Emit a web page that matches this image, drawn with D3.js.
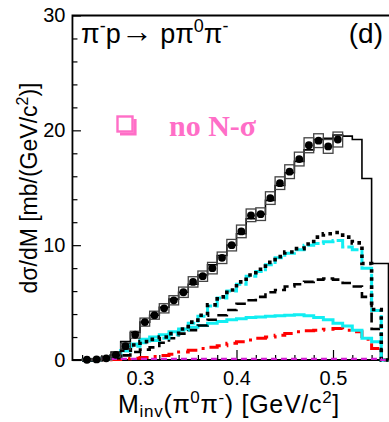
<!DOCTYPE html>
<html>
<head>
<meta charset="utf-8">
<script src="https://cdn.jsdelivr.net/npm/d3@7"></script>
<style>
  html, body { margin: 0; padding: 0; background: #fff; }
  svg { display: block; }
</style>
</head>
<body>
<svg id="chart" width="389" height="422" font-family="Liberation Sans, Arial, Helvetica, sans-serif"></svg>
<script>
// Invariant mass bins of the simulated histograms (GeV/c^2)
const binEdges = [0.24, 0.25, 0.26, 0.27, 0.28, 0.29, 0.30, 0.31, 0.32, 0.33, 0.34,
  0.35, 0.36, 0.37, 0.38, 0.39, 0.40, 0.41, 0.42, 0.43, 0.44, 0.45, 0.46, 0.47,
  0.48, 0.49, 0.50, 0.51, 0.52, 0.53, 0.54, 0.55, 0.5575];

// Measured points: bin centre, dsigma/dM and systematic half-height
const dataMass = [0.245, 0.255, 0.265, 0.275, 0.285, 0.295, 0.305, 0.315, 0.325,
  0.335, 0.345, 0.355, 0.365, 0.375, 0.385, 0.395, 0.405, 0.415, 0.425, 0.435,
  0.445, 0.455, 0.465, 0.475, 0.485, 0.495, 0.505];
const dataXsec = [0.02, 0.05, 0.15, 0.45, 1.2, 2.2, 3.3, 3.9, 4.5, 5.2, 5.9, 6.8,
  7.3, 8.0, 8.9, 10.0, 11.2, 12.6, 12.7, 14.1, 15.4, 16.4, 17.5, 18.7, 19.1, 18.6, 19.2];
const dataSyst = [0.05, 0.08, 0.1, 0.15, 0.25, 0.3, 0.35, 0.35, 0.4, 0.4, 0.45, 0.45,
  0.45, 0.5, 0.5, 0.5, 0.55, 0.55, 0.55, 0.55, 0.55, 0.6, 0.6, 0.65, 0.6, 0.6, 0.65];

// Model components, one value per bin
const totalModel = [0.05, 0.1, 0.25, 0.7, 1.6, 2.4, 3.3, 3.9, 4.6, 5.3, 5.9, 6.6, 7.4,
  8.3, 9.1, 10.0, 11.0, 12.3, 12.7, 13.9, 15.2, 16.3, 17.3, 18.3, 19.2, 19.3, 19.6,
  19.5, 19.2, 15.8, 8.4, 8.4];
const dottedModel = [0, 0.02, 0.1, 0.35, 0.85, 1.3, 1.6, 1.8, 2.0, 2.3, 2.7, 3.3, 3.9,
  4.8, 5.5, 6.1, 6.8, 7.4, 7.9, 8.5, 9.0, 9.4, 9.7, 10.1, 10.7, 11.0, 11.1, 10.7,
  10.2, 8.4, 4.4, 0];
const cyanUpper = [0, 0.02, 0.1, 0.3, 0.8, 1.2, 1.5, 1.7, 1.9, 2.2, 2.6, 3.2, 3.8, 4.7,
  5.4, 6.0, 6.6, 7.3, 7.7, 8.3, 8.9, 9.3, 9.6, 10.0, 10.15, 10.3, 10.4, 9.85, 9.6,
  8.0, 4.3, 0];
const dashedModel = [0, 0.02, 0.08, 0.15, 0.4, 0.7, 0.9, 1.1, 1.5, 1.9, 2.3, 2.6, 3.0,
  3.5, 3.9, 4.35, 4.9, 5.2, 5.5, 5.9, 6.1, 6.4, 6.6, 6.8, 7.0, 7.1, 7.0, 6.7, 6.4,
  5.5, 2.7, 0];
const cyanLower = [0, 0.02, 0.1, 0.3, 0.8, 1.4, 1.8, 2.0, 2.2, 2.45, 2.7, 2.85, 3.0,
  3.2, 3.35, 3.5, 3.6, 3.7, 3.75, 3.8, 3.85, 3.9, 3.95, 3.85, 3.7, 3.5, 3.2, 2.95,
  2.6, 1.9, 1.6, 0];
const redModel = [0, 0, 0.02, 0.05, 0.1, 0.15, 0.22, 0.3, 0.4, 0.5, 0.7, 0.85, 1.0,
  1.1, 1.25, 1.45, 1.6, 1.75, 1.9, 2.0, 2.15, 2.3, 2.45, 2.55, 2.6, 2.67, 2.75,
  2.6, 2.45, 1.8, 1.0, 0];
const magentaModel = [0, 0, 0.1, 0.1, 0.1, 0.1, 0.1, 0.1, 0.1, 0.1, 0.1, 0.1, 0.1,
  0.1, 0.1, 0.1, 0.1, 0.1, 0.1, 0.1, 0.1, 0.1, 0.1, 0.1, 0.1, 0.1, 0.1, 0.1, 0.1,
  0.1, 0.1, 0];

// Axis ticks
const xMajorTicks = [0.3, 0.4, 0.5];
const xMinorTicks = [0.24, 0.26, 0.28, 0.32, 0.34, 0.36, 0.38, 0.42, 0.44, 0.46, 0.48, 0.52, 0.54];
const yMajorTicks = [0, 10, 20, 30];
const yMinorTicks = [2, 4, 6, 8, 12, 14, 16, 18, 22, 24, 26, 28];

const svg = d3.select("#chart");
const x = d3.scaleLinear().domain([0.23, 0.56]).range([72.45, 390.9]);
const y = d3.scaleLinear().domain([0, 30]).range([360, 15.5]);

// Frame: left, top and bottom edges (right edge lies past the canvas)
const [x0, x1] = x.range();
svg.append("path")
  .attr("d", `M${x1},${y(30)} H${x0} V${y(0)} H${x1}`)
  .attr("fill", "none").attr("stroke", "#000").attr("stroke-width", 1.8);

// Axes: ticks point into the frame
const axisFont = 20;
const yAxis = svg.append("g").attr("transform", `translate(${x0},0)`)
  .call(d3.axisLeft(y).tickValues(yMajorTicks).tickSizeInner(-8.5).tickSizeOuter(0).tickPadding(7).tickFormat(d3.format("d")));
const yMinor = svg.append("g").attr("transform", `translate(${x0},0)`)
  .call(d3.axisLeft(y).tickValues(yMinorTicks).tickSizeInner(-5).tickSizeOuter(0).tickFormat(""));
const xAxis = svg.append("g").attr("transform", `translate(0,${y(0)})`)
  .call(d3.axisBottom(x).tickValues(xMajorTicks).tickSizeInner(-10).tickSizeOuter(0).tickPadding(11).tickFormat(d3.format(".1f")));
const xMinor = svg.append("g").attr("transform", `translate(0,${y(0)})`)
  .call(d3.axisBottom(x).tickValues(xMinorTicks).tickSizeInner(-5).tickSizeOuter(0).tickFormat(""));
[yAxis, yMinor, xAxis, xMinor].forEach(g => {
  g.select(".domain").remove();
  g.attr("font-family", null).attr("font-size", null);
  g.selectAll("line").attr("stroke", "#000").attr("stroke-width", 1.2);
  g.selectAll("text").attr("font-size", axisFont).attr("fill", "#000");
});

// Histogram outline as a step path, closed down to zero at both ends
function histPath(values) {
  const pts = [[binEdges[0], 0]];
  values.forEach((v, i) => { pts.push([binEdges[i], v]); pts.push([binEdges[i + 1], v]); });
  pts.push([binEdges[values.length], 0]);
  return d3.line().x(d => x(d[0])).y(d => y(d[1]))(pts);
}

const plot = svg.append("g");

const styles = [
  { v: redModel, color: "#ff0000", w: 3, dash: "13,6,3,6" },
  { v: cyanLower, color: "#12eef2", w: 3, dash: null },
  { v: dashedModel, color: "#000", w: 2.6, dash: "10,5" },
  { v: cyanUpper, color: "#12eef2", w: 3, dash: "14,3" },
  { v: dottedModel, color: "#000", w: 3.6, dash: "3.6,4.5" },
  { v: totalModel, color: "#000", w: 1.6, dash: null },
  { v: magentaModel, color: "#d21ed2", w: 2.2, dash: "6,4" }
];
styles.forEach(s => {
  plot.append("path")
    .attr("d", histPath(s.v))
    .attr("fill", "none")
    .attr("stroke", s.color)
    .attr("stroke-width", s.w)
    .attr("stroke-dasharray", s.dash)
    .attr("stroke-linejoin", "miter");
});

// Systematic error boxes
plot.selectAll("rect.syst")
  .data(dataMass.map((m, i) => ({ m, v: dataXsec[i], s: dataSyst[i] })))
  .join("rect")
  .attr("class", "syst")
  .attr("x", d => x(d.m - 0.005))
  .attr("width", d => x(d.m + 0.005) - x(d.m - 0.005))
  .attr("y", d => y(d.v + d.s))
  .attr("height", d => y(d.v - d.s) - y(d.v + d.s))
  .attr("fill", "none")
  .attr("stroke", "#444")
  .attr("stroke-width", 1.3);

// Data points
plot.selectAll("circle.pt")
  .data(dataMass.map((m, i) => ({ m, v: dataXsec[i] })))
  .join("circle")
  .attr("class", "pt")
  .attr("cx", d => x(d.m))
  .attr("cy", d => y(d.v))
  .attr("r", 3.9)
  .attr("fill", "#000");

// Axis titles
const yTitle = svg.append("text")
  .attr("transform", "translate(37,188) rotate(-90)")
  .attr("text-anchor", "middle")
  .attr("font-size", 23);
yTitle.append("tspan").text("dσ/dM [mb/(GeV/c");
yTitle.append("tspan").attr("font-size", 16).attr("dy", -9).text("2");
yTitle.append("tspan").attr("dy", 9).text(")]");

const xTitle = svg.append("text")
  .attr("x", 118).attr("y", 413)
  .attr("font-size", 25)
  .attr("letter-spacing", 0.7);
xTitle.append("tspan").text("M");
xTitle.append("tspan").attr("font-size", 17).attr("dy", 4).text("inv");
xTitle.append("tspan").attr("dy", -4).text("(π");
xTitle.append("tspan").attr("font-size", 17).attr("dy", -10).text("0");
xTitle.append("tspan").attr("dy", 10).text("π");
xTitle.append("tspan").attr("font-size", 17).attr("dy", -10).text("-");
xTitle.append("tspan").attr("dy", 10).text(") [GeV/c");
xTitle.append("tspan").attr("font-size", 17).attr("dy", -10).text("2");
xTitle.append("tspan").attr("dy", 10).text("]");

// Reaction label and panel tag
const reaction = svg.append("text").attr("x", 81).attr("y", 43).attr("font-size", 27);
reaction.append("tspan").text("π");
reaction.append("tspan").attr("font-size", 18).attr("dy", -11).text("-");
reaction.append("tspan").attr("dy", 11).text("p");
reaction.append("tspan").attr("font-size", 32).attr("dy", -1).text("→");
reaction.append("tspan").attr("dy", 1).text(" pπ");
reaction.append("tspan").attr("font-size", 18).attr("dy", -11).text("0");
reaction.append("tspan").attr("dy", 11).text("π");
reaction.append("tspan").attr("font-size", 18).attr("dy", -11).text("-");

svg.append("text").attr("x", 383).attr("y", 43).attr("text-anchor", "end")
  .attr("font-size", 28).text("(d)");

// Legend entry
const pink = "#ff6ec7";
const leg = svg.append("g");
leg.append("rect").attr("x", 117.5).attr("y", 116.5).attr("width", 15).attr("height", 15)
  .attr("fill", "none").attr("stroke", pink).attr("stroke-width", 2.4);
leg.append("path").attr("d", "M120,134 H135 V119")
  .attr("fill", "none").attr("stroke", pink).attr("stroke-width", 3.2);
leg.append("text").attr("x", 169).attr("y", 136)
  .attr("font-family", "Liberation Serif, 'Times New Roman', serif")
  .attr("font-weight", "bold").attr("font-size", 30).attr("fill", pink)
  .text("no N-σ");
</script>
</body>
</html>
